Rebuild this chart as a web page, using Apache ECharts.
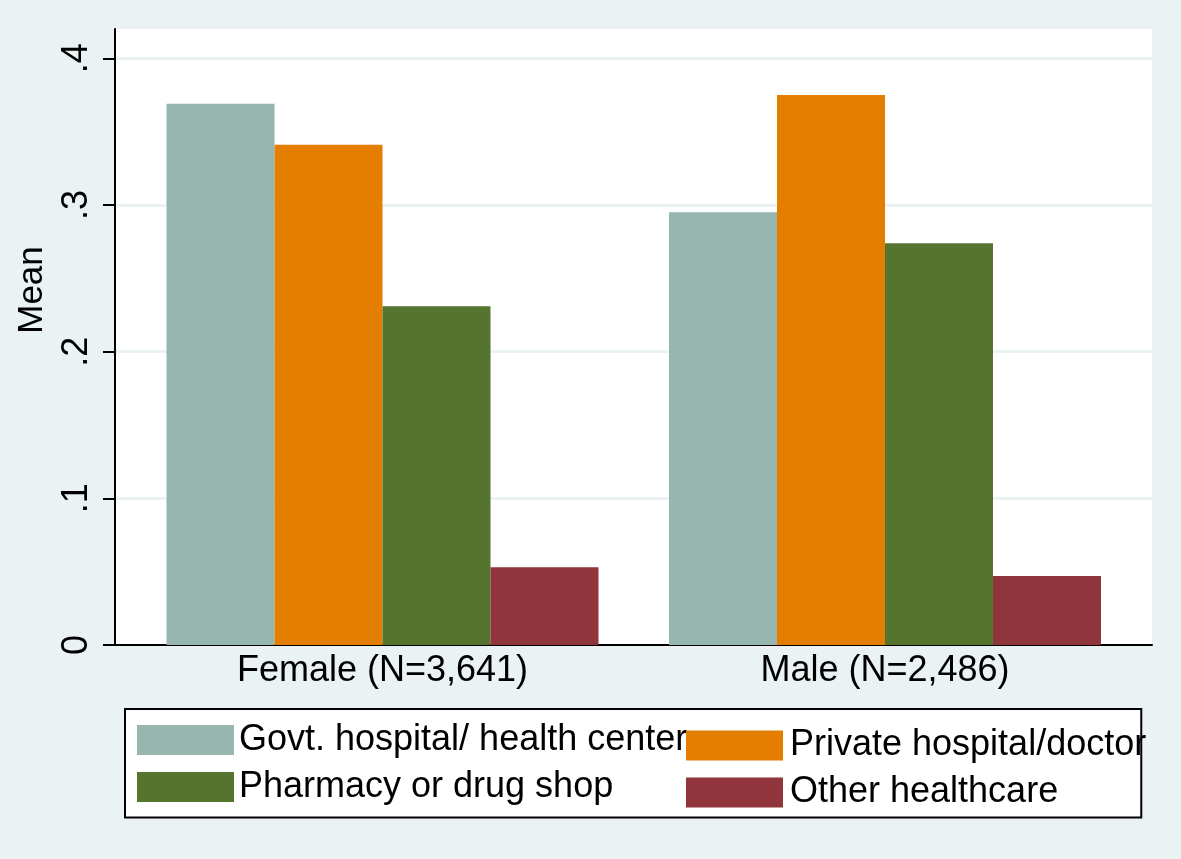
<!DOCTYPE html>
<html>
<head>
<meta charset="utf-8">
<script src="https://cdn.jsdelivr.net/npm/echarts@6/dist/echarts.min.js"></script>
<style>
html,body{margin:0;padding:0;background:#EAF2F3;}
#chart{width:1181px;height:859px;}
</style>
</head>
<body>
<div id="chart"></div>
<script>
// ---- data ----
var categories = ['Female (N=3,641)', 'Male (N=2,486)'];
var seriesNames = ['Govt. hospital/ health center', 'Private hospital/doctor', 'Pharmacy or drug shop', 'Other healthcare'];
var govtValues = [0.369, 0.295];
var privateValues = [0.341, 0.375];
var pharmacyValues = [0.231, 0.274];
var otherValues = [0.053, 0.047];
var yTicks = [0, 0.1, 0.2, 0.3, 0.4];
var yMax = 0.42;

var colors = ['#97B6B0', '#E37E00', '#55752F', '#90353B'];
var FONT = "'Liberation Sans', Arial, sans-serif";

var plotTop = 29, plotBottom = 214; // px from top / bottom of canvas
var plotH = 859 - plotTop - plotBottom;
var tickTop = 859 - plotBottom - plotH * (yTicks[yTicks.length - 1] / yMax);

function fmt(v) {
  if (Math.abs(v) < 1e-9) return '0';
  return String(Math.round(v * 10) / 10).replace(/^0/, '');
}

var allValues = [govtValues, privateValues, pharmacyValues, otherValues];

var chart = echarts.init(document.getElementById('chart'), null, {renderer: 'canvas'});
var option = {
  backgroundColor: '#EAF2F3',
  animation: false,
  textStyle: {fontFamily: FONT, color: '#000'},
  grid: [
    {left: 115, right: 29, top: plotTop, bottom: plotBottom, show: true, backgroundColor: '#FFFFFF', borderWidth: 0, containLabel: false},
    {left: 115, right: 29, top: tickTop, bottom: plotBottom, containLabel: false},
    {left: 131.25, right: 44.75, top: plotTop, bottom: plotBottom, containLabel: false}
  ],
  xAxis: [
    {gridIndex: 0, type: 'value', min: 0, max: 1, position: 'bottom',
     axisLine: {show: true, onZero: false, lineStyle: {color: '#000', width: 2}},
     axisTick: {show: false}, axisLabel: {show: false}, splitLine: {show: false}},
    {gridIndex: 1, type: 'value', min: 0, max: 1, show: false},
    {gridIndex: 2, type: 'category', data: categories, position: 'bottom',
     axisLine: {show: false}, axisTick: {show: false},
     axisLabel: {margin: 8, fontSize: 36, color: '#000', fontFamily: FONT},
     splitLine: {show: false}}
  ],
  yAxis: [
    {gridIndex: 0, type: 'value', min: 0, max: yMax, position: 'left',
     axisLine: {show: true, onZero: false, lineStyle: {color: '#000', width: 2}},
     axisTick: {show: false}, axisLabel: {show: false}, splitLine: {show: false},
     name: 'Mean', nameLocation: 'middle', nameRotate: 90, nameGap: 65,
     nameTextStyle: {fontSize: 35, color: '#000', fontFamily: FONT, padding: [0, 0, 0, 94]}},
    {gridIndex: 1, type: 'value', min: yTicks[0], max: yTicks[yTicks.length - 1], interval: 0.1, position: 'left',
     axisLine: {show: false},
     axisTick: {show: true, length: 12, lineStyle: {color: '#000', width: 2}},
     axisLabel: {show: true, rotate: 90, margin: 20, fontSize: 36, color: '#000', fontFamily: FONT, formatter: fmt},
     splitLine: {show: true, lineStyle: {color: '#EAF2F3', width: 3}}},
    {gridIndex: 2, type: 'value', min: 0, max: yMax, show: false}
  ],
  legend: [
    {data: [seriesNames[0], seriesNames[2]], orient: 'vertical', left: 125, top: 709,
     padding: [13, 454, 12.5, 12], itemWidth: 97, itemHeight: 30, itemGap: 11,
     backgroundColor: '#FFFFFF', borderColor: '#000', borderWidth: 2, borderRadius: 0,
     selectedMode: false, icon: 'rect',
     textStyle: {fontSize: 36, lineHeight: 30, color: '#000', fontFamily: FONT}},
    {data: [seriesNames[1], seriesNames[3]], orient: 'vertical', left: 686, top: 727.5,
     padding: 0, itemWidth: 97, itemHeight: 30, itemGap: 11, z: 10,
     selectedMode: false, icon: 'rect',
     textStyle: {fontSize: 36, lineHeight: 30, color: '#000', fontFamily: FONT, padding: [0, 0, 0, 2]}}
  ],
  series: seriesNames.map(function (name, i) {
    return {
      name: name, type: 'bar', xAxisIndex: 2, yAxisIndex: 2,
      data: allValues[i], barWidth: 108, barGap: '0%',
      itemStyle: {color: colors[i]}
    };
  })
};
chart.setOption(option);
</script>
</body>
</html>
